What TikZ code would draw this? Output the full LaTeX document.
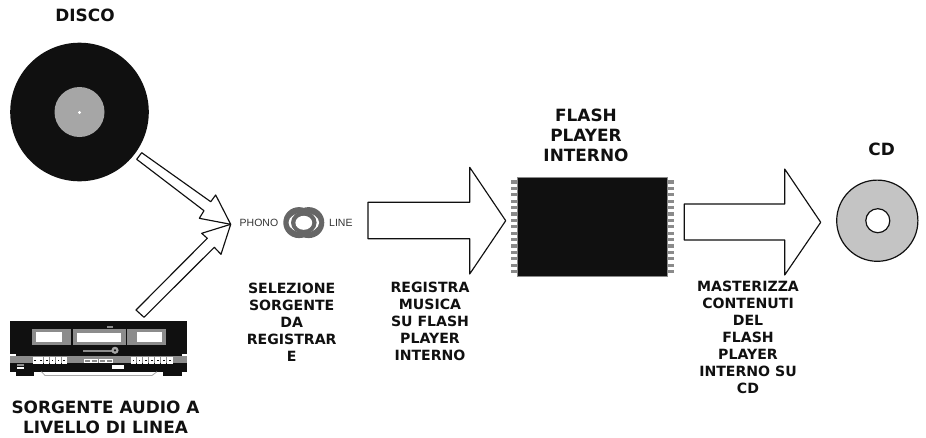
\documentclass[tikz,border=0pt]{standalone}
\usepackage{fontspec}
\setmainfont{DejaVu Sans}
\newfontfamily\tinysans{Liberation Sans}
\definecolor{ink}{HTML}{101010}
\definecolor{discgrey}{HTML}{A6A6A6}
\definecolor{cdgrey}{HTML}{C4C4C4}
\definecolor{pingrey}{HTML}{8A8A8A}
\definecolor{ringgrey}{HTML}{666666}
\definecolor{panelgrey}{HTML}{8C8C8C}
\tikzset{
  blockarrow/.style={draw=ink,fill=white,line width=1.15pt,line join=round},
  lab/.style={font=\fontsize{14.1}{17}\selectfont\bfseries,text=ink,align=center,inner sep=0pt},
  biglab/.style={font=\fontsize{16.9}{20}\selectfont\bfseries,text=ink,align=center,inner sep=0pt},
  sellab/.style={font=\tinysans\fontsize{10.5}{10.5}\selectfont,text=ink!85!white,inner sep=0pt},
  deckwin/.style={fill=white,draw=none},
  deckpanel/.style={fill=panelgrey,draw=none},
  deckbtn/.style={fill=white,draw=none},
}
\begin{document}
\begin{tikzpicture}[x=1pt,y=-1pt]
\useasboundingbox (0,0) rectangle (926,437);
% disc
\fill[ink] (79.5,112) circle (69.3);
\fill[discgrey] (79.5,112) circle (25);
\fill[white] (79.5,112.5) circle (1.6);
\node[biglab] (disco) at (85,15) {DISCO};
% merging arrows
\draw[blockarrow] (141.7,152.7) -- (210.7,201.7) -- (215.7,195) -- (230.7,224.3) -- (199.3,218.3) -- (204,210.7) -- (136.7,159.3) -- cycle;
\draw[blockarrow] (136,310) -- (207.3,238.3) -- (201.7,233.3) -- (230.7,224.3) -- (221,254.3) -- (214.3,247.3) -- (144,317.3) -- cycle;
% selector
\node[sellab,anchor=west] (phono) at (239.5,223) {PHONO};
\node[sellab,anchor=west] (line) at (329,223) {LINE};
\fill[ringgrey] (299,222.6) ellipse (15.7 and 15.5);
\fill[ringgrey] (308.6,222.6) ellipse (15.7 and 15.5);
\fill[white] (303.8,222.6) ellipse (15.3 and 10);
\fill[ringgrey] (303.8,222.6) ellipse (12.8 and 11.3);
\fill[white] (303.8,222.8) ellipse (8.4 and 7);
% main arrows
\draw[blockarrow] (368,202.3) -- (469.7,202.3) -- (469.7,167.3) -- (505.7,220.7) -- (469.7,274) -- (469.7,238.7) -- (368,238.7) -- cycle;
\draw[blockarrow] (684.3,204) -- (784.7,204) -- (784.7,169) -- (820.7,222.3) -- (784.7,275) -- (784.7,240) -- (684.3,240) -- cycle;
% flash chip
\foreach \i in {0,...,14}{
  \fill[pingrey] (511,{180.3+\i*6.4}) rectangle (517.5,{183.6+\i*6.4});
  \fill[pingrey] (667.5,{180.3+\i*6.4}) rectangle (673.5,{183.6+\i*6.4});
}
\fill[ink] (517.3,177.7) rectangle (667.7,276);
\draw[pingrey,line width=.5pt] (517.3,177.7) rectangle (667.7,276);
\node[biglab] (flash) at (586,135) {FLASH\\PLAYER\\INTERNO};
% cd
\draw[ink,line width=1.2pt,fill=cdgrey] (877.3,220.7) circle (40.6);
\draw[ink,line width=1.2pt,fill=white] (877.8,220.7) circle (12);
\node[biglab] (cd) at (881.7,149) {CD};
% deck
\fill[ink] (10.3,320.7) rectangle (187.3,371.7);
\fill[deckpanel] (32.3,329.3) rectangle (71,345);
\fill[deckwin] (36.3,332.3) rectangle (62,342.3);
\fill[deckpanel] (72.7,329.3) rectangle (125.7,345);
\fill[deckwin] (77,333.3) rectangle (121,342.3);
\fill[deckpanel] (127.3,329.3) rectangle (165.7,345);
\fill[deckwin] (136.7,332.3) rectangle (161.7,342.3);
\fill[panelgrey] (107.3,326) rectangle (113.3,328.3);
\fill[panelgrey] (83,349.5) rectangle (112,352);
\fill[discgrey] (115,350.3) circle (3.6);
\fill[ink] (115,350.3) circle (1.2);
\fill[panelgrey] (10.3,356) rectangle (187.3,363.3);
\fill[white] (10.3,354) rectangle (16,356);
\fill[white] (182,354) rectangle (187.3,356);
\foreach \i in {0,...,5}{
  \fill[deckbtn] ({32.5+\i*5.85},357.3) rectangle ({37.5+\i*5.85},364);
  \fill[ink] ({34.2+\i*5.85},359.6) rectangle ({35.8+\i*5.85},360.8);
}
\foreach \i in {0,...,6}{
  \fill[deckbtn] ({131+\i*6.05},357.3) rectangle ({136.2+\i*6.05},364);
  \fill[ink] ({132.8+\i*6.05},359.6) rectangle ({134.4+\i*6.05},360.8);
}
\foreach \i in {0,...,3}{
  \draw[white,line width=.5pt] ({84.5+\i*7.2},359.3) rectangle ({90.5+\i*7.2},362.3);
}
\fill[panelgrey] (17.3,364) rectangle (24,366.3);
\fill[white] (17.3,367) rectangle (24,369.3);
\fill[white] (112.3,365.3) rectangle (124.3,369.3);
\fill[ink] (16,371.7) rectangle (34.3,376);
\fill[ink] (163.3,371.7) rectangle (182,376);
\draw[discgrey,line width=.8pt] (41.5,371.7) -- (45,375.5) -- (152,375.5) -- (157,371.7);
\node[biglab] (source) at (105.5,417) {SORGENTE AUDIO A\\LIVELLO DI LINEA};
% captions
\node[lab] (sel) at (291.7,322.5) {SELEZIONE\\SORGENTE\\DA\\REGISTRAR\\E};
\node[lab] (reg) at (430,321.5) {REGISTRA\\MUSICA\\SU FLASH\\PLAYER\\INTERNO};
\node[lab] (mast) at (748,337.5) {MASTERIZZA\\CONTENUTI\\DEL\\FLASH\\PLAYER\\INTERNO SU\\CD};
\end{tikzpicture}
\end{document}
